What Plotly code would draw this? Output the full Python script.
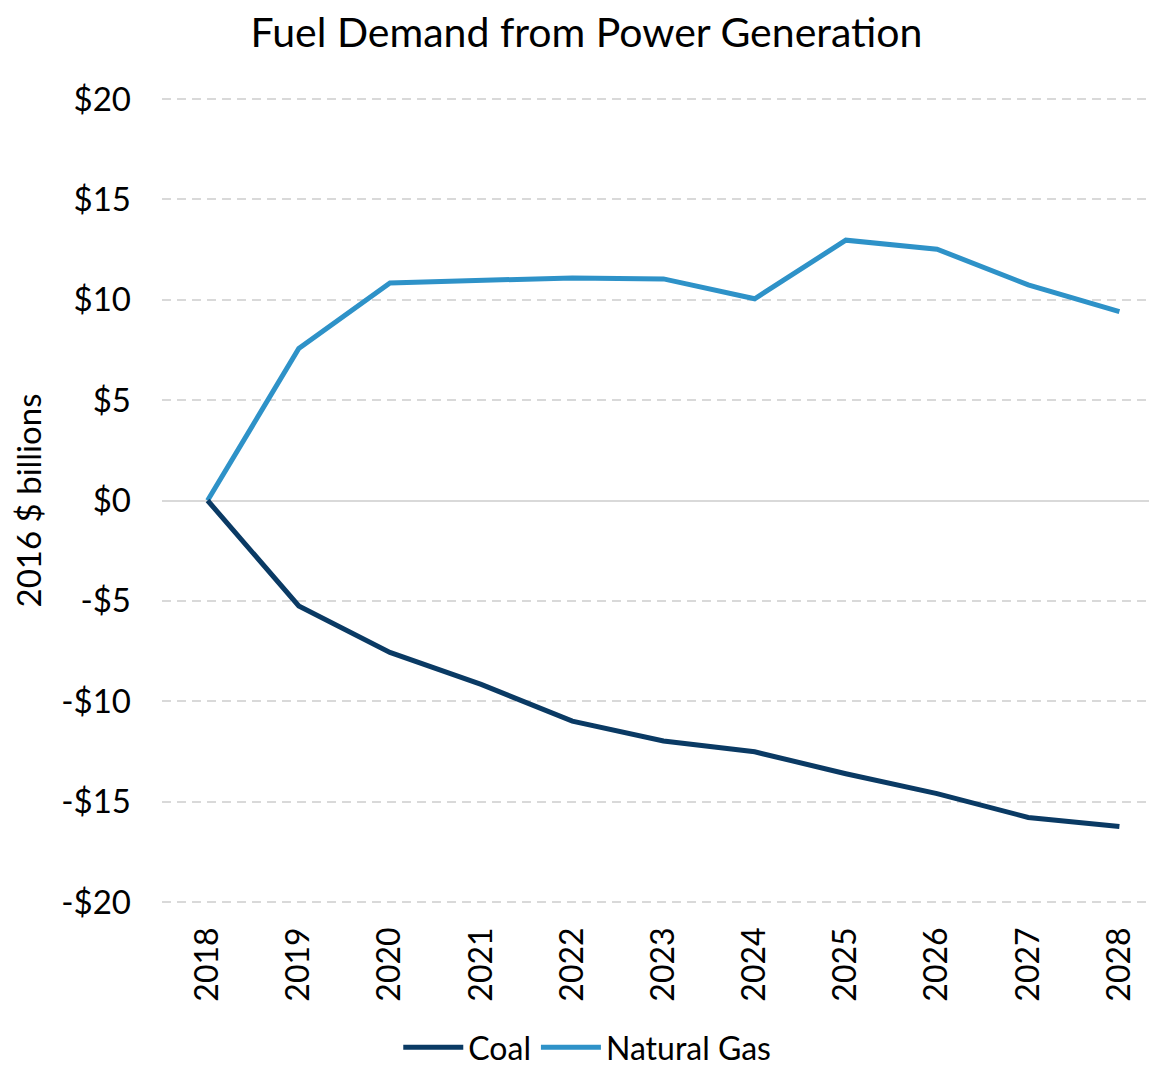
import plotly.graph_objects as go

# Fuel demand change from power generation, 2016 $ billions
years = ["2018", "2019", "2020", "2021", "2022", "2023", "2024", "2025", "2026", "2027", "2028"]
coal = [0, -5.25, -7.57, -9.16, -10.99, -11.98, -12.52, -13.61, -14.6, -15.79, -16.24]
natural_gas = [0, 7.57, 10.84, 10.99, 11.09, 11.04, 10.05, 12.97, 12.52, 10.74, 9.41]

y_ticks = [-20, -15, -10, -5, 0, 5, 10, 15, 20]
y_tick_labels = ["-$20", "-$15", "-$10", "-$5", "$0", "$5", "$10", "$15", "$20"]

font_family = "Lato, 'Open Sans', sans-serif"

fig = go.Figure()

# gas first so the coal line sits on top where they meet
fig.add_trace(go.Scatter(
    x=years, y=natural_gas, mode="lines", name="Natural Gas",
    line=dict(color="#2e92c8", width=5), legendrank=2
))
fig.add_trace(go.Scatter(
    x=years, y=coal, mode="lines", name="Coal",
    line=dict(color="#0a3a64", width=5), legendrank=1
))

fig.update_xaxes(
    type="category",
    range=[-0.5, 10.5],
    tickangle=-90,
    showgrid=False,
    zeroline=False,
    showline=False,
    ticks="",
    ticklabelstandoff=14,
    tickfont=dict(size=32, color="black", family=font_family),
)
fig.update_yaxes(
    range=[-20.2, 20.2],
    tickvals=y_ticks,
    ticktext=y_tick_labels,
    showgrid=True,
    gridcolor="#d9d9d9",
    griddash="9px,6px",
    gridwidth=1.5,
    zeroline=True,
    zerolinecolor="#d9d9d9",
    zerolinewidth=1.5,
    ticks="",
    ticklabelstandoff=30,
    tickfont=dict(size=33, color="black", family=font_family),
    title=dict(text="2016 $ billions", standoff=22,
               font=dict(size=33, color="black", family=font_family)),
)

fig.update_layout(
    width=1157,
    height=1067,
    title=dict(
        text="Fuel Demand from Power Generation",
        x=0.5, xanchor="center", y=0.977, yanchor="middle",
        font=dict(size=41, color="black", family=font_family),
    ),
    legend=dict(
        orientation="h", x=0.424, xanchor="center", y=-0.175, yanchor="middle",
        font=dict(size=32, color="black", family=font_family),
        itemwidth=60,
    ),
    plot_bgcolor="white",
    paper_bgcolor="white",
    margin=dict(l=154, r=0, t=87, b=166),
)

fig.write_html("out.html")
